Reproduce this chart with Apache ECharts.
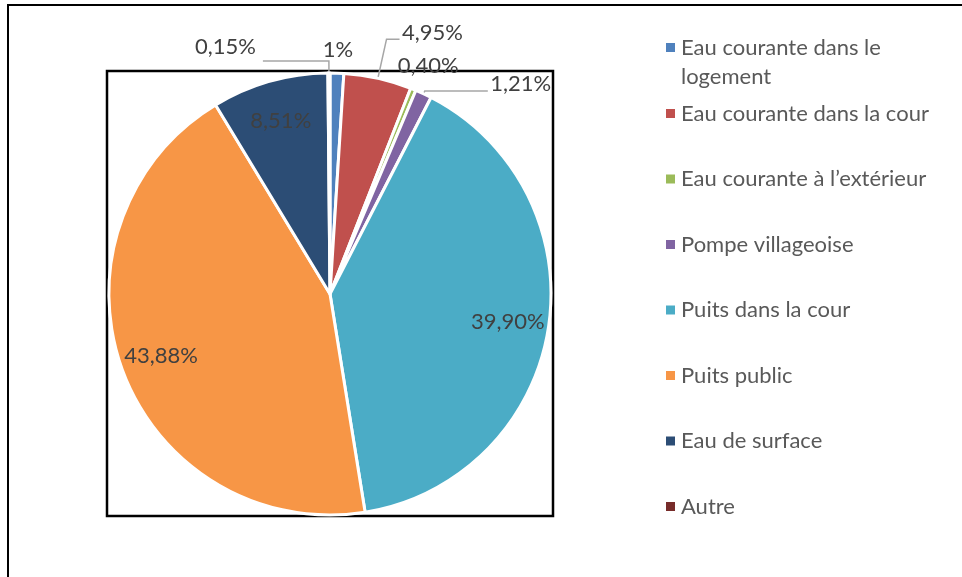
<!DOCTYPE html>
<html>
<head>
<meta charset="utf-8">
<title>Sources d'eau</title>
<script src="https://cdn.jsdelivr.net/npm/echarts@6/dist/echarts.min.js"></script>
<style>
  html, body { margin: 0; padding: 0; background: #ffffff; }
  #chart { width: 962px; height: 577px; }
</style>
</head>
<body>
<div id="chart"></div>
<script>
// sources d'approvisionnement en eau (%)
var categories = [
  'Eau courante dans le logement',
  'Eau courante dans la cour',
  'Eau courante à l\u2019extérieur',
  'Pompe villageoise',
  'Puits dans la cour',
  'Puits public',
  'Eau de surface',
  'Autre'
];
var values = [1, 4.95, 0.40, 1.21, 39.90, 43.88, 8.51, 0.15];
var valueLabels = ['1%', '4,95%', '0,40%', '1,21%', '39,90%', '43,88%', '8,51%', '0,15%'];
var colors = ['#4F81BD', '#C0504D', '#9BBB59', '#8064A2', '#4BACC6', '#F79646', '#2C4D75', '#772C2A'];

var FONT = 'Lato';
var labelColor = '#404040';

// réglage des étiquettes extérieures (longueur du trait, distance, remontée du texte)
var outsideLabel = {
  0: { len: 23, len2: 0, dist: -15, line: false, up: 0 },
  1: { len: 40, len2: 13, dist: 2.4, line: true, up: 6.5 },
  2: { len: 25, len2: 0, dist: -25, line: false, up: 0 },
  3: { len: 3, len2: 63, dist: 2.5, line: true, up: 7 },
  7: { len: 12, len2: 66, dist: 7, line: true, up: 14 }
};
var insideIdx = [4, 5, 6];

var mainData = categories.map(function (name, i) {
  var o = outsideLabel[i];
  var item = {
    name: name,
    value: values[i],
    itemStyle: { color: colors[i] }
  };
  if (o) {
    item.label = {
      show: true,
      position: 'outside',
      // ligne vide en dessous pour remonter le texte au-dessus du trait
      formatter: o.up ? valueLabels[i] + '\n' : valueLabels[i],
      distanceToLabelLine: o.dist
    };
    if (o.up) item.label.lineHeight = o.up * 2;
    item.labelLine = { show: o.line, length: o.len, length2: o.len2 };
  } else {
    item.label = { show: false };
    item.labelLine = { show: false };
  }
  return item;
});

// anneau transparent, seulement pour placer les étiquettes intérieures
var labelData = categories.map(function (name, i) {
  return {
    name: name,
    value: values[i],
    label: {
      show: insideIdx.indexOf(i) >= 0,
      formatter: valueLabels[i]
    }
  };
});

var chart = echarts.init(document.getElementById('chart'));
chart.setOption({
  backgroundColor: '#ffffff',
  animation: false,
  textStyle: { fontFamily: FONT },
  graphic: [
    {
      type: 'rect',
      z: 0,
      shape: { x: 8, y: 5, width: 1000, height: 1000 },
      style: { fill: 'none', stroke: '#000000', lineWidth: 2 }
    },
    {
      type: 'rect',
      z: 0,
      shape: { x: 107, y: 71, width: 446, height: 445 },
      style: { fill: 'none', stroke: '#000000', lineWidth: 2.5 }
    }
  ],
  legend: [
    {
      // première entrée sur deux lignes, carré aligné sur la première ligne
      orient: 'vertical',
      left: 661,
      top: 28,
      selectedMode: false,
      data: [{ name: categories[0], icon: 'path://M0,0h9v9h-9zM10,38' }],
      itemWidth: 10,
      itemHeight: 38,
      itemStyle: { borderWidth: 0 },
      formatter: function (n) { return n.replace(' le ', ' le\n'); },
      textStyle: { fontFamily: FONT, fontSize: 22, color: '#595959', lineHeight: 29 }
    },
    {
      orient: 'vertical',
      left: 661,
      top: 94,
      itemGap: 36.5,
      selectedMode: false,
      data: categories.slice(1).map(function (n) {
        return { name: n, icon: 'path://M0,0h9v9h-9zM10,9' };
      }),
      itemWidth: 10,
      itemHeight: 9,
      itemStyle: { borderWidth: 0 },
      textStyle: { fontFamily: FONT, fontSize: 22, color: '#595959', lineHeight: 29 }
    }
  ],
  series: [
    {
      name: 'Source',
      type: 'pie',
      center: [330, 294],
      radius: [0, 221],
      startAngle: 90,
      clockwise: true,
      avoidLabelOverlap: false,
      labelLayout: { hideOverlap: false },
      itemStyle: { borderColor: '#ffffff', borderWidth: 3 },
      label: { fontFamily: FONT, fontSize: 22, color: labelColor },
      labelLine: { lineStyle: { color: '#A6A6A6', width: 1.5 } },
      emphasis: { disabled: true },
      data: mainData
    },
    {
      name: 'etiquettes',
      type: 'pie',
      center: [330, 294],
      radius: [133, 221],
      startAngle: 90,
      clockwise: true,
      silent: true,
      avoidLabelOverlap: false,
      itemStyle: { color: 'rgba(0,0,0,0)', borderWidth: 0 },
      label: { position: 'inside', fontFamily: FONT, fontSize: 22, color: labelColor },
      labelLine: { show: false },
      emphasis: { disabled: true },
      data: labelData
    }
  ]
});
window.addEventListener('resize', function () { chart.resize(); });
</script>
</body>
</html>
